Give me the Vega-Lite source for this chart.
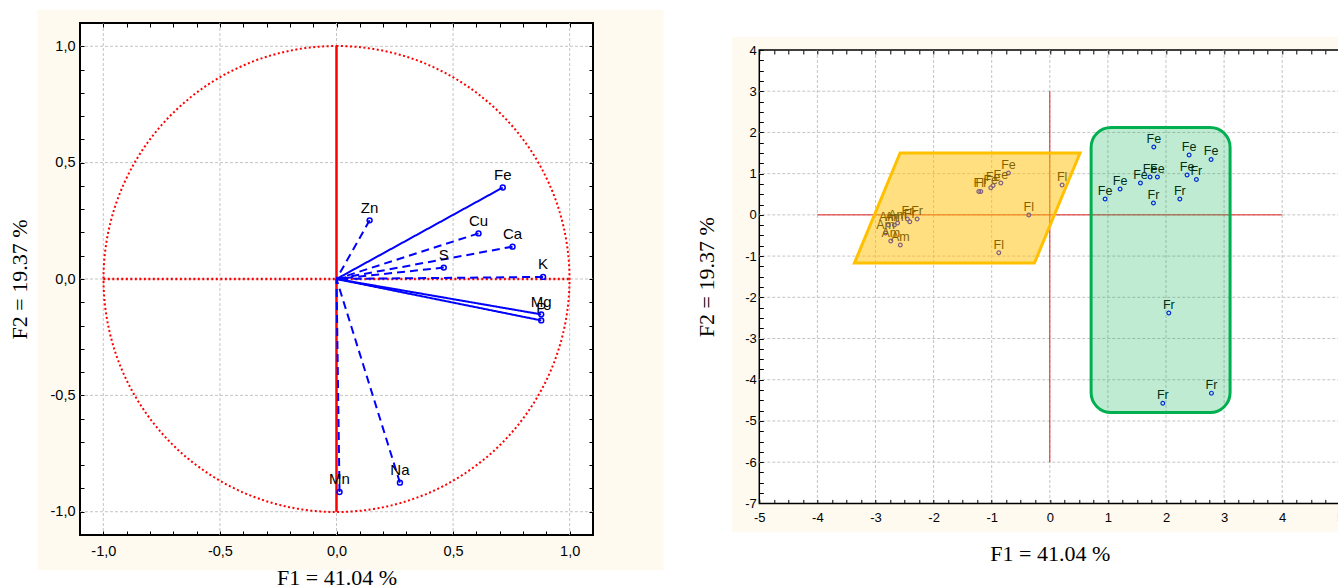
{
  "$schema": "https://vega.github.io/schema/vega-lite/v6.json",
  "background": "white",
  "padding": {"left": 8, "top": 9, "right": 0, "bottom": 0},
  "autosize": {"type": "pad"},
  "bounds": "flush",
  "spacing": 166.3,
  "config": {
    "view": {"stroke": null},
    "axis": {"labelFont": "Liberation Sans", "titleFont": "Liberation Serif", "titleFontWeight": "normal", "labelColor": "black", "titleColor": "black", "tickColor": "black", "domain": false, "grid": false, "labelOverlap": false, "labelFlush": false, "tickWidth": 1}
  },
  "datasets": {
    "one": [{}],
    "loadings": [
      {"var": "Fe", "x": 0.713, "y": 0.393, "type": "active"},
      {"var": "Zn", "x": 0.142, "y": 0.252, "type": "supplementary"},
      {"var": "Cu", "x": 0.609, "y": 0.196, "type": "supplementary"},
      {"var": "Ca", "x": 0.755, "y": 0.139, "type": "supplementary"},
      {"var": "S", "x": 0.46, "y": 0.049, "type": "supplementary"},
      {"var": "K", "x": 0.886, "y": 0.009, "type": "supplementary"},
      {"var": "Mg", "x": 0.878, "y": -0.152, "type": "active"},
      {"var": "P", "x": 0.878, "y": -0.178, "type": "active"},
      {"var": "Mn", "x": 0.013, "y": -0.915, "type": "supplementary"},
      {"var": "Na", "x": 0.272, "y": -0.875, "type": "supplementary"}
    ],
    "gridL": [{"v": -1}, {"v": -0.5}, {"v": 0}, {"v": 0.5}, {"v": 1}],
    "gridRx": [{"v": -4}, {"v": -3}, {"v": -2}, {"v": -1}, {"v": 0}, {"v": 1}, {"v": 2}, {"v": 3}, {"v": 4}],
    "gridRy": [{"v": -6}, {"v": -5}, {"v": -4}, {"v": -3}, {"v": -2}, {"v": -1}, {"v": 0}, {"v": 1}, {"v": 2}, {"v": 3}],
    "scores": [
      {"label": "Fe", "x": 1.79, "y": 1.646},
      {"label": "Fe", "x": 2.398, "y": 1.451},
      {"label": "Fe", "x": 2.776, "y": 1.345},
      {"label": "Fe", "x": 2.363, "y": 0.966},
      {"label": "Fr", "x": 2.523, "y": 0.859},
      {"label": "Fe", "x": 1.726, "y": 0.917},
      {"label": "Fe", "x": 1.852, "y": 0.917},
      {"label": "Fe", "x": 1.56, "y": 0.772},
      {"label": "Fe", "x": 1.21, "y": 0.626},
      {"label": "Fe", "x": 0.952, "y": 0.383},
      {"label": "Fr", "x": 1.784, "y": 0.286},
      {"label": "Fr", "x": 2.238, "y": 0.383},
      {"label": "Fr", "x": 2.048, "y": -2.383},
      {"label": "Fr", "x": 1.945, "y": -4.568},
      {"label": "Fr", "x": 2.782, "y": -4.325},
      {"label": "Fl", "x": 0.212, "y": 0.723},
      {"label": "Fl", "x": -0.361, "y": -0.005},
      {"label": "Fl", "x": -0.878, "y": -0.92},
      {"label": "Fl", "x": -1.222, "y": 0.568},
      {"label": "Fl", "x": -1.188, "y": 0.568},
      {"label": "Fe", "x": -1.016, "y": 0.658},
      {"label": "Fe", "x": -0.976, "y": 0.714},
      {"label": "Fe", "x": -0.843, "y": 0.772},
      {"label": "Fe", "x": -0.712, "y": 1.015},
      {"label": "Am", "x": -2.778, "y": -0.248},
      {"label": "Am", "x": -2.675, "y": -0.248},
      {"label": "Am", "x": -2.62, "y": -0.199},
      {"label": "Fr", "x": -2.451, "y": -0.102},
      {"label": "Fr", "x": -2.41, "y": -0.167},
      {"label": "Fr", "x": -2.284, "y": -0.102},
      {"label": "Am", "x": -2.826, "y": -0.442},
      {"label": "Am", "x": -2.737, "y": -0.633},
      {"label": "Am", "x": -2.573, "y": -0.731}
    ],
    "groupGreen": [{"x": 0.711, "x2": 3.103, "y": 2.121, "y2": -4.796}],
    "groupYellow": [{"y": 1.5, "xl": -2.577, "xr": 0.52}, {"y": -1.17, "xl": -3.363, "xr": -0.265}]
  },
  "hconcat": [
    {
      "width": 513,
      "height": 512,
      "resolve": {"axis": {"x": "independent", "y": "independent"}},
      "layer": [
        {
          "data": {"name": "one"},
          "mark": {"type": "rect", "fill": "#fffaf0"},
          "encoding": {
            "x": {"datum": -1.283, "type": "quantitative", "scale": {"domain": [-1.1, 1.1], "nice": false, "zero": false},
              "axis": {"orient": "bottom", "zindex": 1, "values": [-1.1,-1,-0.9,-0.8,-0.7,-0.6,-0.5,-0.4,-0.3,-0.2,-0.1,0,0.1,0.2,0.3,0.4,0.5,0.6,0.7,0.8,0.9,1,1.1],
                "labelExpr": "abs(datum.value*2-round(datum.value*2))<0.001 ? (datum.value < -0.001 ? '-' : '') + replace(format(abs(datum.value), '.1f'), '.', ',') : ''",
                "tickSize": -4, "labelPadding": 13, "labelFontSize": 14.5, "title": "F1 = 41.04 %", "titleFontSize": 22, "titlePadding": 10}},
            "x2": {"datum": 1.403},
            "y": {"datum": 1.157, "type": "quantitative", "scale": {"domain": [-1.1, 1.1], "nice": false, "zero": false},
              "axis": {"orient": "left", "zindex": 1, "values": [-1.1,-1,-0.9,-0.8,-0.7,-0.6,-0.5,-0.4,-0.3,-0.2,-0.1,0,0.1,0.2,0.3,0.4,0.5,0.6,0.7,0.8,0.9,1,1.1],
                "labelExpr": "abs(datum.value*2-round(datum.value*2))<0.001 ? (datum.value < -0.001 ? '-' : '') + replace(format(abs(datum.value), '.1f'), '.', ',') : ''",
                "tickSize": -4, "labelPadding": 9, "labelFontSize": 14.5, "title": "F2 = 19.37 %", "titleFontSize": 22, "titlePadding": 19}},
            "y2": {"datum": -1.25}
          }
        },
        {
          "data": {"name": "one"},
          "mark": {"type": "rect", "fill": "white", "stroke": "black", "strokeWidth": 2},
          "encoding": {
            "x": {"datum": -1.1, "type": "quantitative", "axis": {"orient": "top", "zindex": 1, "values": [-1.1,-1,-0.9,-0.8,-0.7,-0.6,-0.5,-0.4,-0.3,-0.2,-0.1,0,0.1,0.2,0.3,0.4,0.5,0.6,0.7,0.8,0.9,1,1.1], "labels": false, "tickSize": -4, "title": null}},
            "x2": {"datum": 1.1},
            "y": {"datum": 1.1, "type": "quantitative", "axis": {"orient": "right", "zindex": 1, "values": [-1.1,-1,-0.9,-0.8,-0.7,-0.6,-0.5,-0.4,-0.3,-0.2,-0.1,0,0.1,0.2,0.3,0.4,0.5,0.6,0.7,0.8,0.9,1,1.1], "labels": false, "tickSize": -4, "title": null}},
            "y2": {"datum": -1.1}
          }
        },
        {
          "data": {"name": "gridL"},
          "mark": {"type": "rule", "color": "#c4c4c4", "strokeDash": [3, 2], "strokeWidth": 1},
          "encoding": {"x": {"field": "v", "type": "quantitative", "axis": null}}
        },
        {
          "data": {"name": "gridL"},
          "mark": {"type": "rule", "color": "#c4c4c4", "strokeDash": [3, 2], "strokeWidth": 1},
          "encoding": {"y": {"field": "v", "type": "quantitative", "axis": null}}
        },
        {
          "data": {"name": "one"},
          "mark": {"type": "arc", "radius": 233, "theta": 0, "theta2": 6.2832, "filled": false, "fill": null, "stroke": "#ff0000", "strokeWidth": 2, "strokeDash": [2, 2.5]},
          "encoding": {}
        },
        {
          "data": {"name": "one"},
          "mark": {"type": "rule", "color": "#ff0000", "strokeWidth": 2.5, "strokeDash": [2, 2.5]},
          "encoding": {"x": {"datum": -1, "type": "quantitative", "axis": null}, "x2": {"datum": 1}, "y": {"datum": 0, "type": "quantitative", "axis": null}}
        },
        {
          "data": {"name": "one"},
          "mark": {"type": "rule", "color": "#ff0000", "strokeWidth": 2.5},
          "encoding": {"x": {"datum": 0, "type": "quantitative", "axis": null}, "y": {"datum": 1, "type": "quantitative", "axis": null}, "y2": {"datum": -1}}
        },
        {
          "data": {"name": "loadings"},
          "mark": {"type": "rule", "color": "#0000ff", "strokeWidth": 2},
          "encoding": {
            "x": {"field": "x", "type": "quantitative", "axis": null},
            "y": {"field": "y", "type": "quantitative", "axis": null},
            "x2": {"datum": 0},
            "y2": {"datum": 0},
            "strokeDash": {"field": "type", "type": "nominal", "scale": {"domain": ["active", "supplementary"], "range": [[1, 0], [8, 5]]}, "legend": null}
          }
        },
        {
          "data": {"name": "loadings"},
          "mark": {"type": "point", "shape": "circle", "filled": false, "color": "#0000ff", "size": 24, "strokeWidth": 1.5, "opacity": 1},
          "encoding": {
            "x": {"field": "x", "type": "quantitative", "axis": null},
            "y": {"field": "y", "type": "quantitative", "axis": null}
          }
        },
        {
          "data": {"name": "loadings"},
          "mark": {"type": "text", "font": "Liberation Sans", "fontSize": 15, "color": "black", "dy": -7.5, "baseline": "alphabetic", "align": "center"},
          "encoding": {
            "x": {"field": "x", "type": "quantitative", "axis": null},
            "y": {"field": "y", "type": "quantitative", "axis": null},
            "text": {"field": "var"}
          }
        }
      ]
    },
    {
      "bounds": "flush",
      "spacing": 0,
      "vconcat": [
        {"width": 581, "height": 26.6, "data": {"values": [{}]}, "mark": {"type": "point", "opacity": 0}},
        {
          "width": 581,
          "height": 453.4,
          "resolve": {"axis": {"x": "independent", "y": "independent"}},
          "layer": [
            {
              "data": {"name": "one"},
              "mark": {"type": "rect", "fill": "#fffaf0"},
              "encoding": {
                "x": {"datum": -5.468, "type": "quantitative", "scale": {"domain": [-5, 5], "nice": false, "zero": false},
                  "axis": {"orient": "bottom", "zindex": 1, "values": [-5,-4.75,-4.5,-4.25,-4,-3.75,-3.5,-3.25,-3,-2.75,-2.5,-2.25,-2,-1.75,-1.5,-1.25,-1,-0.75,-0.5,-0.25,0,0.25,0.5,0.75,1,1.25,1.5,1.75,2,2.25,2.5,2.75,3,3.25,3.5,3.75,4,4.25,4.5,4.75,5],
                    "labelExpr": "datum.value % 1 == 0 ? '' + datum.value : ''",
                    "tickSize": -4, "labelPadding": 12, "labelFontSize": 13, "title": "F1 = 41.04 %", "titleFontSize": 22, "titlePadding": 19}},
                "x2": {"datum": 5},
                "y": {"datum": 4.323, "type": "quantitative", "scale": {"domain": [-7, 4], "nice": false, "zero": false},
                  "axis": {"orient": "left", "zindex": 1, "values": [-7,-6.75,-6.5,-6.25,-6,-5.75,-5.5,-5.25,-5,-4.75,-4.5,-4.25,-4,-3.75,-3.5,-3.25,-3,-2.75,-2.5,-2.25,-2,-1.75,-1.5,-1.25,-1,-0.75,-0.5,-0.25,0,0.25,0.5,0.75,1,1.25,1.5,1.75,2,2.25,2.5,2.75,3,3.25,3.5,3.75,4],
                    "labelExpr": "datum.value % 1 == 0 ? '' + datum.value : ''",
                    "tickSize": -4, "labelPadding": 7, "labelFontSize": 13, "title": "F2 = 19.37 %", "titleFontSize": 22, "titlePadding": 26}},
                "y2": {"datum": -7.687}
              }
            },
            {
              "data": {"name": "one"},
              "mark": {"type": "rect", "fill": "white", "stroke": "black", "strokeWidth": 1.5},
              "encoding": {
                "x": {"datum": -5, "type": "quantitative", "axis": {"orient": "top", "zindex": 1, "values": [-5,-4.75,-4.5,-4.25,-4,-3.75,-3.5,-3.25,-3,-2.75,-2.5,-2.25,-2,-1.75,-1.5,-1.25,-1,-0.75,-0.5,-0.25,0,0.25,0.5,0.75,1,1.25,1.5,1.75,2,2.25,2.5,2.75,3,3.25,3.5,3.75,4,4.25,4.5,4.75,5], "labels": false, "tickSize": -4, "title": null}},
                "x2": {"datum": 5},
                "y": {"datum": 4, "type": "quantitative", "axis": null},
                "y2": {"datum": -7}
              }
            },
            {
              "data": {"name": "gridRx"},
              "mark": {"type": "rule", "color": "#c4c4c4", "strokeDash": [3, 2], "strokeWidth": 1},
              "encoding": {"x": {"field": "v", "type": "quantitative", "axis": null}}
            },
            {
              "data": {"name": "gridRy"},
              "mark": {"type": "rule", "color": "#c4c4c4", "strokeDash": [3, 2], "strokeWidth": 1},
              "encoding": {"y": {"field": "v", "type": "quantitative", "axis": null}}
            },
            {
              "data": {"name": "one"},
              "mark": {"type": "rule", "color": "#e02020", "strokeWidth": 1},
              "encoding": {"x": {"datum": -4, "type": "quantitative", "axis": null}, "x2": {"datum": 4}, "y": {"datum": 0, "type": "quantitative", "axis": null}}
            },
            {
              "data": {"name": "one"},
              "mark": {"type": "rule", "color": "#e02020", "strokeWidth": 1},
              "encoding": {"x": {"datum": 0, "type": "quantitative", "axis": null}, "y": {"datum": 3, "type": "quantitative", "axis": null}, "y2": {"datum": -6}}
            },
            {
              "data": {"name": "scores"},
              "mark": {"type": "point", "shape": "circle", "filled": false, "color": "#0000ff", "size": 14, "strokeWidth": 1.2, "opacity": 1},
              "encoding": {
                "x": {"field": "x", "type": "quantitative", "axis": null},
                "y": {"field": "y", "type": "quantitative", "axis": null}
              }
            },
            {
              "data": {"name": "scores"},
              "mark": {"type": "text", "font": "Liberation Sans", "fontSize": 12.5, "color": "black", "dy": -4, "baseline": "alphabetic", "align": "center"},
              "encoding": {
                "x": {"field": "x", "type": "quantitative", "axis": null},
                "y": {"field": "y", "type": "quantitative", "axis": null},
                "text": {"field": "label"}
              }
            },
            {
              "data": {"name": "groupGreen"},
              "mark": {"type": "rect", "fill": "#00b050", "fillOpacity": 0.25, "stroke": "#00b050", "strokeWidth": 3, "cornerRadius": 20},
              "encoding": {
                "x": {"field": "x", "type": "quantitative", "axis": null},
                "x2": {"field": "x2"},
                "y": {"field": "y", "type": "quantitative", "axis": null},
                "y2": {"field": "y2"}
              }
            },
            {
              "data": {"name": "groupYellow"},
              "mark": {"type": "area", "orient": "horizontal", "fill": "#ffc000", "fillOpacity": 0.5, "stroke": "#ffc000", "strokeWidth": 3, "strokeJoin": "miter"},
              "encoding": {
                "y": {"field": "y", "type": "quantitative", "axis": null},
                "x": {"field": "xl", "type": "quantitative", "axis": null},
                "x2": {"field": "xr"}
              }
            }
          ]
        }
      ]
    }
  ]
}
